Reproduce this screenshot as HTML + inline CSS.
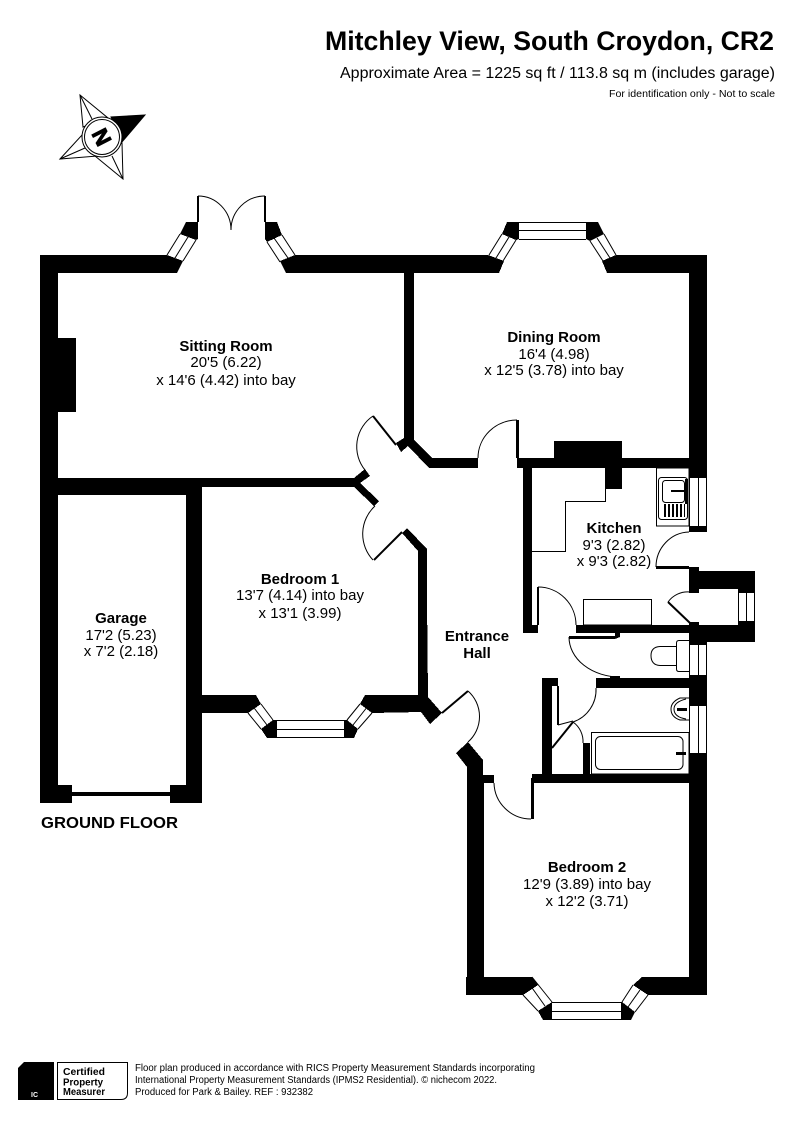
<!DOCTYPE html>
<html><head><meta charset="utf-8"><style>
html,body{margin:0;padding:0;background:#fff}
svg{display:block}
text{font-family:"Liberation Sans",sans-serif;fill:#000}
.b{font-weight:bold}
.c text,.c{text-anchor:middle;font-size:15px}
</style></head><body>
<svg width="794" height="1123" viewBox="0 0 794 1123" xmlns="http://www.w3.org/2000/svg">
<rect width="794" height="1123" fill="#fff"/>
<text class="b" x="325" y="50" font-size="27" textLength="449" lengthAdjust="spacingAndGlyphs">Mitchley View, South Croydon, CR2</text>
<text x="340" y="78" font-size="15.500" textLength="435" lengthAdjust="spacingAndGlyphs">Approximate Area = 1225 sq ft / 113.8 sq m (includes garage)</text>
<text x="609" y="97" font-size="10" textLength="166" lengthAdjust="spacingAndGlyphs">For identification only - Not to scale</text>

<!-- compass -->
<g fill="#fff" stroke="#000" stroke-width="1">
<polygon points="80,95 108,118 83,127"/>
<polygon points="60,159 82,135 98,156"/>
<polygon points="123,179 95,156 122,143"/>
<path d="M80 95L92 119M60 159L85 148M123 179L112 156"/>
<polygon points="145,115 111,117 122,142" fill="#000"/>
<circle cx="102" cy="137" r="20"/>
<circle cx="102" cy="137" r="17.500"/>
</g>
<text class="b" x="0" y="0" font-size="22" text-anchor="middle" stroke="#000" stroke-width="1" transform="translate(102,137) rotate(63) translate(0,8)">N</text>

<g fill="#000" shape-rendering="crispEdges">
<!-- outer left and top -->
<rect x="40" y="255" width="18" height="548"/>
<polygon points="40,255 167,255 183,261 177,273 40,273"/>
<polygon points="186,222 198,222 198,239 196,240 180,234"/>
<polygon points="265,222 277,222 282,235 267,242 265,239"/>
<polygon points="295,255 707,255 707,273 286,273 280,261"/>
<!-- fireplace -->
<rect x="58" y="338" width="18" height="74"/>
<!-- dining bay; covering wall sections -->
<rect x="488" y="255" width="128" height="18" fill="#fff"/>
<polygon points="420,255 488,255 504,261 499,273 420,273"/>
<polygon points="616,255 689,255 689,273 607,273 602,261"/>
<polygon points="507,222 519,222 519,239 516,240 502,234"/>
<polygon points="586,222 598,222 604,234 590,241 586,239"/>
<!-- right wall -->
<rect x="689" y="255" width="18" height="223"/>
<rect x="689" y="526" width="18" height="6"/>
<rect x="689" y="567" width="10" height="26"/>
<rect x="689" y="571" width="66" height="18"/>
<rect x="738" y="589" width="17" height="3"/>
<rect x="689" y="622" width="10" height="3"/>
<rect x="689" y="625" width="66" height="17"/>
<rect x="738" y="622" width="17" height="3"/>
<rect x="689" y="633" width="18" height="12"/>
<rect x="689" y="675" width="18" height="31"/>
<rect x="689" y="753" width="18" height="242"/>
<!-- sitting / dining partition -->
<polygon points="404,272 414,272 414,440 432,458 478,458 478,468 429,468 408,446 401,452 396,443 404,438"/>
<!-- sitting / bedroom wall, garage top -->
<polygon points="58,478 354,478 365,469 370,476 360,483 379,501 374,506 354,487 202,487 202,495 58,495"/>
<!-- garage/bedroom wall -->
<rect x="186" y="487" width="16" height="316"/>
<polygon points="58,785 72,785 72,803 40,803 40,785"/>
<rect x="170" y="785" width="32" height="18"/>
<rect x="72" y="792" width="98" height="4"/>
<!-- hall left wall -->
<polygon points="407,528 427,549 427,600 428,697 442,713 430,724 421,712 418,712 418,551 402,533"/>
<!-- bedroom1 bay -->
<polygon points="202,695 256,695 261,704 248,713 202,713"/>
<polygon points="273,720 277,720 277,738 267,738 261,729"/>
<polygon points="344,720 347,720 358,729 354,738 344,738"/>
<polygon points="365,695 421,695 421,712 372,713 360,704"/>
<!-- hall lower wall / bedroom2 left -->
<polygon points="468,742 456,753 467,767 467,995 532,995 523,995 484,995 484,783 494,783 494,775 483,775 483,760"/>
<polygon points="484,977 532,977 538,985 523,995 466,995 466,977"/>
<!-- bedroom2 bay -->
<polygon points="552,1002 552,1020 543,1020 538,1011"/>
<polygon points="622,1002 635,1012 631,1020 621,1020 621,1002"/>
<polygon points="642,977 689,977 689,995 648,995 633,985"/>
<!-- horizontals: dining/kitchen -->
<rect x="517" y="458" width="172" height="10"/>
<rect x="554" y="441" width="68" height="17"/>
<rect x="605" y="468" width="17" height="21"/>
<rect x="523" y="468" width="9" height="165"/>
<rect x="532" y="625" width="6" height="8"/>
<rect x="576" y="625" width="113" height="8"/>
<polygon points="569,636 615,636 615,633 620,633 620,637 615,639 569,639"/>
<!-- WC/bath wall -->
<rect x="596" y="678" width="93" height="10"/>
<rect x="610" y="676" width="10" height="2"/>
<!-- closet -->
<rect x="542" y="678" width="10" height="97"/>
<rect x="552" y="678" width="6" height="8"/>
<rect x="583" y="743" width="7" height="31"/>
<!-- bed2 top wall -->
<rect x="532" y="774" width="157" height="9"/>
<rect x="531" y="778" width="3" height="41"/>
<!-- door leaves -->
<rect x="197" y="196" width="2" height="26"/>
<rect x="264" y="196" width="2" height="26"/>
<rect x="516" y="420" width="3" height="38"/>
<rect x="537" y="587" width="2" height="38"/>
<rect x="656" y="566" width="33" height="3"/>
<rect x="557" y="686" width="2" height="39"/>
</g>

<g fill="none" stroke="#000" stroke-width="2">
<line x1="373" y1="416" x2="396" y2="445"/>
<line x1="374" y1="560" x2="402" y2="532"/>
<line x1="442" y1="713" x2="468" y2="691"/>
<line x1="668" y1="602" x2="690" y2="623"/>
<line x1="552" y1="748" x2="573" y2="722"/>
</g>

<g fill="none" stroke="#000" stroke-width="1">
<!-- door arcs -->
<path d="M198 196A33 34 0 0 1 231 230"/>
<path d="M265 196A34 34 0 0 0 231 230"/>
<path d="M517 420A39 38 0 0 0 478 458"/>
<path d="M373 416A37 37 0 0 0 365 470"/>
<path d="M375 506A38 38 0 0 0 373 560"/>
<path d="M468 691A34 34 0 0 1 468 742"/>
<path d="M494 783A37 37 0 0 0 531 819"/>
<path d="M656 567A34 35 0 0 1 689 532"/>
<path d="M538 587A38 38 0 0 1 576 625"/>
<path d="M668 602A24 24 0 0 1 690 592"/>
<path d="M569 637A51 40 0 0 0 620 677"/>
<path d="M596 688A34 34 0 0 1 573 722"/>
<path d="M573 722A24 24 0 0 1 583 743"/>
<path d="M558 725L573 721"/>
<!-- windows -->
<path d="M180 234L167 255M196 240L183 261M188 237L175 258"/>
<path d="M267 242L280 262M282 235L295 255M274 238L288 258"/>
<path d="M502 234L489 255M516 240L503 261M509 237L496 258"/>
<path d="M590 241L603 261M604 234L616 255M597 238L610 258"/>
<path d="M519 222.500H586M519 230.500H586M519 239.500H586"/>
<path d="M261 704L273 720M248 713L261 729M254.500 708.500L267 725"/>
<path d="M277 720.500H344M277 729.500H344M277 737.500H344"/>
<path d="M360 704L347 720M372 713L358 729M366 708.500L353 725"/>
<path d="M523 995L538 1011M532 977L552 1002M530 985L545 1006" />
<path d="M552 1002.500H621M552 1011.500H621M552 1019.500H621"/>
<path d="M633 985L622 1002M648 995L635 1012M640 990L628 1007"/>
<path d="M689.500 478V526M698.500 478V526M706.500 478V526"/>
<path d="M689.500 645V675M698.500 645V675M706.500 645V675"/>
<path d="M689.500 706V753M698.500 706V753M706.500 706V753"/>
<path d="M738 592.500H755M738 621.500H755M738.500 592V622M746.500 592V622M754.500 592V622"/>
<!-- kitchen lines -->
<path d="M605.500 489V501.500H565.500V551.500H532"/>
<rect x="583.500" y="599.500" width="68" height="25.500"/>
<rect x="656.500" y="468" width="32.500" height="58"/>
<rect x="658.500" y="477.500" width="29" height="42" rx="3"/>
<rect x="662.500" y="480.500" width="22" height="22" rx="3"/>
<!-- bath -->
<rect x="591.500" y="732.500" width="97.500" height="41.500"/>
<rect x="595.500" y="736.500" width="87.500" height="33" rx="5"/>
<!-- basin -->
<path d="M689 698H680Q671 702 671 709Q671 717 680 720H689"/>
<path d="M686 699Q674 702 674 709Q674 717 686 719"/>
<!-- wc -->
<path d="M689 640.500H679Q676.500 640.500 676.500 643V669Q676.500 671.500 679 671.500H689"/>
<path d="M676 646.500H660Q651 647 651 655.500Q651 665 660 665.500H676"/>
</g>
<g fill="#000" shape-rendering="crispEdges">
<rect x="664" y="504" width="2" height="13"/><rect x="668" y="504" width="2" height="13"/>
<rect x="672" y="504" width="2" height="13"/><rect x="676" y="504" width="2" height="13"/>
<rect x="680" y="504" width="2" height="13"/><rect x="684" y="504" width="1" height="13"/>
<rect x="671" y="490" width="14" height="2"/>
<rect x="685" y="479" width="3" height="25"/>
<rect x="677" y="708" width="10" height="3"/>
<rect x="676" y="752" width="10" height="3"/>
</g>

<!-- labels -->
<g class="c">
<text x="226" y="351" class="b">Sitting Room</text>
<text x="226" y="367">20'5 (6.22)</text>
<text x="226" y="385">x 14'6 (4.42) into bay</text>
<text x="554" y="342" class="b">Dining Room</text>
<text x="554" y="359">16'4 (4.98)</text>
<text x="554" y="375">x 12'5 (3.78) into bay</text>
<text x="614" y="533" class="b">Kitchen</text>
<text x="614" y="550">9'3 (2.82)</text>
<text x="614" y="566">x 9'3 (2.82)</text>
<text x="300" y="584" class="b">Bedroom 1</text>
<text x="300" y="600">13'7 (4.14) into bay</text>
<text x="300" y="618">x 13'1 (3.99)</text>
<text x="121" y="623" class="b">Garage</text>
<text x="121" y="640">17'2 (5.23)</text>
<text x="121" y="656">x 7'2 (2.18)</text>
<text x="477" y="641" class="b">Entrance</text>
<text x="477" y="658" class="b">Hall</text>
<text x="587" y="872" class="b">Bedroom 2</text>
<text x="587" y="889">12'9 (3.89) into bay</text>
<text x="587" y="906">x 12'2 (3.71)</text>
</g>
<text class="b" x="41" y="828" font-size="16" textLength="137" lengthAdjust="spacingAndGlyphs">GROUND FLOOR</text>

<!-- footer -->
<polygon points="24,1062 54,1062 54,1100 18,1100 18,1068" fill="#000"/>
<text x="31" y="1097" font-size="7" class="b" style="fill:#fff">IC</text>
<path d="M57.500 1062.500H127.500V1093Q127.500 1099.500 121 1099.500H57.500Z" fill="none" stroke="#000"/>
<text class="b" x="63" y="1075" font-size="10" textLength="42" lengthAdjust="spacingAndGlyphs">Certified</text>
<text class="b" x="63" y="1085.500" font-size="10" textLength="40" lengthAdjust="spacingAndGlyphs">Property</text>
<text class="b" x="63" y="1095" font-size="10" textLength="42" lengthAdjust="spacingAndGlyphs">Measurer</text>
<text x="135" y="1071" font-size="10" textLength="400" lengthAdjust="spacingAndGlyphs">Floor plan produced in accordance with RICS Property Measurement Standards incorporating</text>
<text x="135" y="1083" font-size="10" textLength="362" lengthAdjust="spacingAndGlyphs">International Property Measurement Standards (IPMS2 Residential).  © nichecom 2022.</text>
<text x="135" y="1095" font-size="10" textLength="178" lengthAdjust="spacingAndGlyphs">Produced for Park &amp; Bailey.   REF : 932382</text>
</svg>
</body></html>
